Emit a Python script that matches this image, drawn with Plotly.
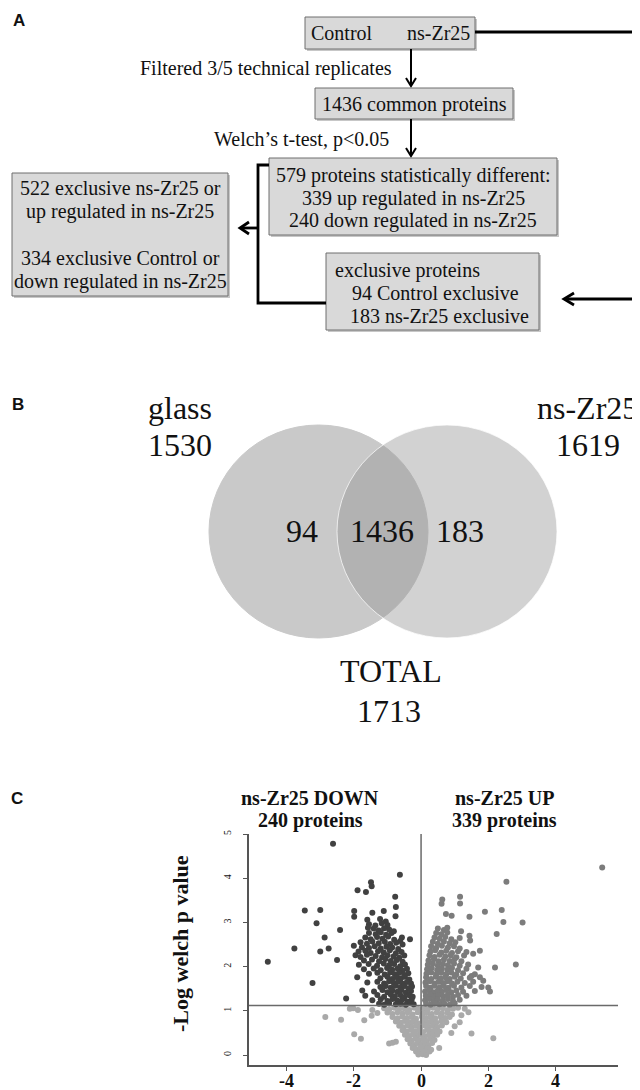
import plotly.graph_objects as go

W, H = 640, 1090

# ---- panel B: Venn counts
venn_labels = ["glass", "ns-Zr25"]
venn_totals = [1530, 1619]
venn_only_left = 94
venn_common = 1436
venn_only_right = 183
venn_total = 1713

# ---- panel C: volcano plot (log2 fold change, -log welch p)
down_count = 240
up_count = 339

down_pts = [
    (-2.62, 4.78), (-0.63, 4.08), (-1.49, 3.91), (-1.47, 3.82), (-1.89, 3.73), (-1.64, 3.69), (-0.77, 3.58),
    (-0.75, 3.35), (-3.46, 3.27), (-3.00, 3.28), (-1.99, 3.26), (-1.45, 3.22), (-1.11, 3.26), (-0.76, 3.14),
    (-1.99, 3.13), (-3.11, 2.98), (-2.41, 2.83), (-2.87, 2.66), (-2.75, 2.41), (-3.77, 2.41), (-3.00, 2.34),
    (-2.50, 2.15), (-4.56, 2.11), (-3.23, 1.63), (-2.23, 1.28), (-0.33, 2.62), (-0.57, 2.66),
    (-1.60, 3.06), (-1.22, 3.08), (-1.05, 3.02),
    (-1.55, 2.96), (-1.36, 2.93), (-1.17, 2.98), (-1.00, 2.94), (-1.58, 2.88),
    (-1.41, 2.86), (-1.26, 2.82), (-1.10, 2.87), (-0.95, 2.84), (-0.81, 2.80),
    (-1.55, 2.76), (-1.35, 2.73), (-1.20, 2.78), (-1.04, 2.72), (-0.88, 2.76),
    (-1.66, 2.66), (-1.50, 2.62), (-1.31, 2.67), (-1.15, 2.63), (-0.98, 2.68), (-0.80, 2.61), (-0.62, 2.58),
    (-1.80, 2.55), (-1.61, 2.52), (-1.45, 2.57), (-1.26, 2.53), (-1.08, 2.56), (-0.92, 2.51), (-0.74, 2.54),
    (-0.55, 2.50),
    (-2.00, 2.47), (-1.76, 2.44), (-1.55, 2.42), (-1.38, 2.46), (-1.20, 2.41), (-1.03, 2.45), (-0.86, 2.43),
    (-0.68, 2.40),
    (-1.86, 2.34), (-1.66, 2.36), (-1.50, 2.31), (-1.28, 2.35), (-1.11, 2.32), (-0.93, 2.37), (-0.75, 2.30),
    (-0.58, 2.33),
    (-1.95, 2.26), (-1.80, 2.22), (-1.61, 2.27), (-1.35, 2.24), (-1.16, 2.21), (-1.00, 2.26), (-0.82, 2.23),
    (-0.65, 2.20), (-0.50, 2.25),
    (-1.70, 2.14), (-1.46, 2.16), (-1.25, 2.12), (-1.06, 2.17), (-0.90, 2.13), (-0.72, 2.15), (-0.55, 2.11),
    (-1.85, 2.04), (-1.56, 2.06), (-1.31, 2.02), (-1.11, 2.07), (-0.95, 2.03), (-0.80, 2.06), (-0.62, 2.01),
    (-0.48, 2.05),
    (-1.70, 1.94), (-1.41, 1.96), (-1.20, 1.92), (-1.01, 1.97), (-0.86, 1.93), (-0.70, 1.96), (-0.55, 1.91),
    (-0.42, 1.95),
    (-1.55, 1.84), (-1.30, 1.86), (-1.08, 1.82), (-0.92, 1.87), (-0.78, 1.83), (-0.65, 1.86), (-0.50, 1.81),
    (-0.38, 1.85),
    (-1.90, 1.76), (-1.21, 1.74), (-1.00, 1.77), (-0.86, 1.72), (-0.72, 1.76), (-0.60, 1.73), (-0.48, 1.77),
    (-0.35, 1.71),
    (-1.60, 1.64), (-1.30, 1.66), (-1.10, 1.62), (-0.95, 1.67), (-0.81, 1.63), (-0.68, 1.66), (-0.55, 1.61),
    (-0.42, 1.65), (-0.30, 1.62),
    (-1.21, 1.54), (-1.05, 1.56), (-0.90, 1.52), (-0.76, 1.57), (-0.62, 1.53), (-0.50, 1.56), (-0.38, 1.51),
    (-0.27, 1.55),
    (-1.75, 1.46), (-1.40, 1.44), (-1.15, 1.47), (-1.00, 1.42), (-0.85, 1.46), (-0.70, 1.43), (-0.58, 1.47),
    (-0.45, 1.41), (-0.30, 1.45),
    (-1.66, 1.34), (-1.30, 1.36), (-1.10, 1.32), (-0.90, 1.37), (-0.78, 1.33), (-0.62, 1.36), (-0.50, 1.31),
    (-0.35, 1.35), (-0.25, 1.32),
    (-1.45, 1.24), (-1.20, 1.26), (-1.00, 1.22), (-0.85, 1.27), (-0.70, 1.23), (-0.55, 1.26), (-0.40, 1.21),
    (-0.28, 1.25),
    (-1.25, 1.16), (-1.10, 1.14), (-0.95, 1.17), (-0.75, 1.15), (-0.60, 1.16), (-0.45, 1.14), (-0.32, 1.17),
    (-0.22, 1.15),
]

up_pts = [
    (5.39, 4.24), (2.54, 3.92), (1.16, 3.58), (1.16, 3.43), (0.63, 3.52), (0.61, 3.42), (0.74, 3.19),
    (0.91, 3.15), (1.44, 3.13), (1.90, 3.24), (2.40, 3.28), (2.45, 3.01), (3.02, 3.00), (2.25, 2.74),
    (2.82, 2.05), (2.20, 1.98), (1.75, 2.36), (2.05, 1.44), (2.00, 1.53), (1.44, 2.70), (1.19, 2.80),
    (1.46, 2.59), (1.55, 2.29), (1.70, 1.98), (1.85, 1.68), (1.50, 1.79),
    (0.50, 2.86), (0.68, 2.83), (0.78, 2.88),
    (0.45, 2.76), (0.60, 2.73), (0.78, 2.77),
    (0.40, 2.66), (0.55, 2.63), (0.72, 2.67), (0.90, 2.62), (1.15, 2.65),
    (0.35, 2.56), (0.50, 2.52), (0.68, 2.57), (0.85, 2.53), (1.02, 2.55),
    (0.30, 2.46), (0.45, 2.42), (0.62, 2.47), (0.80, 2.43), (0.98, 2.46), (1.15, 2.41),
    (0.28, 2.34), (0.42, 2.37), (0.60, 2.32), (0.75, 2.36), (0.92, 2.31), (1.10, 2.35), (1.35, 2.33),
    (0.25, 2.26), (0.40, 2.22), (0.55, 2.27), (0.72, 2.23), (0.88, 2.26), (1.05, 2.21), (1.28, 2.25),
    (0.22, 2.14), (0.38, 2.17), (0.52, 2.12), (0.68, 2.16), (0.85, 2.13), (1.00, 2.17), (1.20, 2.12),
    (0.20, 2.04), (0.35, 2.07), (0.50, 2.02), (0.65, 2.06), (0.80, 2.03), (0.98, 2.07), (1.15, 2.02),
    (1.40, 2.05),
    (0.18, 1.94), (0.32, 1.97), (0.48, 1.92), (0.62, 1.96), (0.78, 1.93), (0.92, 1.97), (1.10, 1.92),
    (1.35, 1.95),
    (0.16, 1.84), (0.30, 1.87), (0.45, 1.82), (0.60, 1.86), (0.75, 1.83), (0.90, 1.87), (1.05, 1.82),
    (1.25, 1.85), (1.60, 1.83),
    (0.15, 1.76), (0.30, 1.72), (0.44, 1.77), (0.58, 1.73), (0.72, 1.76), (0.85, 1.72), (1.00, 1.77),
    (1.18, 1.73), (1.45, 1.75), (1.75, 1.76),
    (0.13, 1.64), (0.26, 1.67), (0.40, 1.62), (0.52, 1.66), (0.65, 1.63), (0.78, 1.67), (0.92, 1.62),
    (1.08, 1.66), (1.30, 1.63), (1.55, 1.66),
    (0.15, 1.56), (0.28, 1.52), (0.40, 1.57), (0.55, 1.53), (0.68, 1.56), (0.82, 1.52), (0.98, 1.57),
    (1.20, 1.53), (1.45, 1.56), (1.80, 1.54),
    (0.12, 1.44), (0.25, 1.47), (0.38, 1.42), (0.50, 1.46), (0.62, 1.43), (0.75, 1.47), (0.90, 1.42),
    (1.05, 1.46), (1.25, 1.43), (1.60, 1.45),
    (0.14, 1.34), (0.27, 1.37), (0.40, 1.32), (0.52, 1.36), (0.66, 1.33), (0.80, 1.37), (0.95, 1.32),
    (1.10, 1.36), (1.35, 1.34),
    (0.12, 1.24), (0.25, 1.27), (0.38, 1.22), (0.50, 1.26), (0.65, 1.23), (0.80, 1.27), (0.95, 1.22),
    (1.15, 1.25),
    (0.15, 1.16), (0.28, 1.14), (0.42, 1.17), (0.55, 1.15), (0.70, 1.16), (0.85, 1.14), (1.00, 1.17),
]

ns_pts = [
    (-2.85, 0.86), (-2.38, 0.80), (-1.99, 0.47), (-1.79, 0.37), (-2.12, 1.05), (-2.02, 1.06), (-1.88, 1.02),
    (-1.69, 0.79), (-1.47, 0.89), (-1.45, 1.02), (-1.30, 0.95), (-0.95, 0.26), (-0.75, 0.30), (-0.85, 0.28),
    (1.41, 0.97), (1.15, 0.74), (1.50, 0.49), (2.15, 0.38), (0.54, 0.16), (1.20, 0.90), (1.30, 1.05),
    (0.90, 0.50), (1.00, 0.65),
    (-1.10, 1.06), (-0.95, 1.03), (-0.80, 1.07), (-0.65, 1.04), (-0.50, 1.06), (-0.35, 1.02), (-0.20, 1.07),
    (-0.08, 1.04), (0.08, 1.06), (0.20, 1.03), (0.35, 1.07), (0.50, 1.04), (0.65, 1.06), (0.80, 1.02),
    (0.95, 1.05), (1.10, 1.07),
    (-1.00, 0.96), (-0.85, 0.93), (-0.70, 0.97), (-0.55, 0.94), (-0.40, 0.96), (-0.25, 0.92), (-0.10, 0.97),
    (0.05, 0.94), (0.18, 0.96), (0.32, 0.93), (0.47, 0.97), (0.62, 0.94), (0.78, 0.96), (0.92, 0.92),
    (-0.85, 0.86), (-0.70, 0.83), (-0.56, 0.87), (-0.42, 0.84), (-0.28, 0.86), (-0.15, 0.82), (0.02, 0.87),
    (0.15, 0.84), (0.28, 0.86), (0.42, 0.83), (0.58, 0.87), (0.72, 0.84), (0.85, 0.86),
    (-0.75, 0.76), (-0.60, 0.73), (-0.48, 0.77), (-0.35, 0.74), (-0.22, 0.76), (-0.10, 0.72), (0.05, 0.77),
    (0.18, 0.74), (0.30, 0.76), (0.45, 0.73), (0.60, 0.77), (0.75, 0.74),
    (-0.65, 0.66), (-0.52, 0.63), (-0.40, 0.67), (-0.28, 0.64), (-0.15, 0.66), (-0.03, 0.62), (0.10, 0.67),
    (0.22, 0.64), (0.35, 0.66), (0.48, 0.63), (0.62, 0.67),
    (-0.55, 0.56), (-0.42, 0.53), (-0.30, 0.57), (-0.18, 0.54), (-0.06, 0.56), (0.06, 0.52), (0.18, 0.57),
    (0.30, 0.54), (0.42, 0.56), (0.55, 0.53),
    (-0.48, 0.46), (-0.35, 0.43), (-0.24, 0.47), (-0.12, 0.44), (0.00, 0.46), (0.12, 0.42), (0.24, 0.47),
    (0.36, 0.44), (0.48, 0.46),
    (-0.40, 0.36), (-0.28, 0.33), (-0.17, 0.37), (-0.06, 0.34), (0.06, 0.36), (0.17, 0.32), (0.28, 0.37),
    (0.40, 0.34),
    (-0.32, 0.26), (-0.20, 0.23), (-0.10, 0.27), (0.02, 0.24), (0.12, 0.26), (0.22, 0.22), (0.33, 0.27),
    (-0.25, 0.16), (-0.13, 0.13), (-0.02, 0.17), (0.10, 0.14), (0.20, 0.16), (0.30, 0.12),
    (-0.15, 0.08), (-0.05, 0.05), (0.05, 0.09), (0.15, 0.06), (0.25, 0.08),
    (-0.08, 0.01), (0.05, 0.02), (0.15, 0.00),
]

x_tickvals = [-4, -2, 0, 2, 4]
x_ticktext = ["-4", "-2", "0", "2", "4"]
y_tickvals = [0, 1, 2, 3, 4, 5]
p_threshold = 1.12

SERIF = "Liberation Serif"
SANS = "Liberation Sans"
INK = "#111111"


def px(x):
    return x / W


def py(y):
    return 1 - y / H


def P(x, y):
    return f"{px(x):.5f},{py(y):.5f}"


fig = go.Figure()
shapes = []
notes = []


def txt(x, y, s, size=20, family=SERIF, anchor="center", angle=0):
    notes.append(dict(x=px(x), y=py(y), xref="paper", yref="paper", text=s, showarrow=False,
                      xanchor=anchor, yanchor="middle", textangle=angle,
                      font=dict(family=family, size=size, color=INK)))


def box(x0, y0, x1, y1):
    # soft drop shadow then the grey box
    shapes.append(dict(type="rect", xref="paper", yref="paper", x0=px(x0 + 2), x1=px(x1 + 2),
                       y0=py(y1 + 2), y1=py(y0 + 2), fillcolor="rgba(0,0,0,0.22)", line_width=0))
    shapes.append(dict(type="rect", xref="paper", yref="paper", x0=px(x0), x1=px(x1),
                       y0=py(y1), y1=py(y0), fillcolor="#d9d9d9", line=dict(color="#6e6e6e", width=1)))


def polyline(pts, width=2.4):
    path = "M" + " L".join(P(x, y) for x, y in pts)
    shapes.append(dict(type="path", xref="paper", yref="paper", path=path,
                       line=dict(color="#000000", width=width)))


# ---------------- panel A: flow chart
txt(11, 13, "<b>A</b>", size=17, family=SANS)

box(297, 9, 467, 41)
txt(334, 25, "Control")
txt(430, 25, "ns-Zr25")

polyline([(403, 41), (403, 78)], 2)
polyline([(398, 70), (403, 78), (408, 70)], 2)
txt(258, 61, "Filtered 3/5 technical replicates")

box(307, 80, 505, 111)
txt(406, 96, "1436 common proteins")

polyline([(403, 111), (403, 148)], 2)
polyline([(398, 140), (403, 148), (408, 140)], 2)
txt(293, 131, "Welch’s t-test, p&lt;0.05")

box(261, 150, 549, 227)
txt(405, 167, "579 proteins statistically different:")
txt(405, 190, "339 up regulated in ns-Zr25")
txt(405, 213, "240 down regulated in ns-Zr25")

box(4, 165, 220, 288)
txt(112, 180, "522 exclusive ns-Zr25 or")
txt(112, 203, "up regulated in ns-Zr25")
txt(112, 250, "334 exclusive Control or")
txt(112, 273, "down regulated in ns-Zr25")

box(318, 245, 531, 322)
txt(325, 262, "exclusive proteins", anchor="left")
txt(342, 285, "94 Control exclusive", anchor="left")
txt(340, 308, "183 ns-Zr25 exclusive", anchor="left")

# bracket joining the two result boxes, pointing to the summary box
polyline([(261, 157), (250, 157), (250, 295), (318, 295)], 2.8)
polyline([(250, 220), (233, 220)], 2.8)
polyline([(241, 214), (232, 220), (241, 226)], 2.8)

# connector from the start box to the exclusive box
polyline([(467, 24), (635, 24), (635, 291), (557, 291)], 2.8)
polyline([(566, 285), (556, 291), (566, 297)], 2.8)

# ---------------- panel B: Venn diagram
txt(10, 396, "<b>B</b>", size=17, family=SANS)
shapes.append(dict(type="circle", xref="paper", yref="paper", x0=px(201), x1=px(420),
                   y0=py(630), y1=py(417), fillcolor="#c9c9c9", line=dict(color="#c9c9c9", width=1)))
shapes.append(dict(type="circle", xref="paper", yref="paper", x0=px(329), x1=px(549),
                   y0=py(630), y1=py(417), fillcolor="rgba(147,147,147,0.42)",
                   line=dict(color="rgba(255,255,255,0.7)", width=1)))

txt(172, 400, venn_labels[0], size=32)
txt(172, 437, str(venn_totals[0]), size=32)
txt(579, 400, venn_labels[1], size=32)
txt(580, 437, str(venn_totals[1]), size=32)
txt(294, 523, str(venn_only_left), size=32)
txt(374, 523, str(venn_common), size=32)
txt(452, 523, str(venn_only_right), size=32)
txt(383, 663, "TOTAL", size=32)
txt(381, 703, str(venn_total), size=32)

# ---------------- panel C: volcano plot
txt(9, 790, "<b>C</b>", size=17, family=SANS)
txt(302, 790, "<b>ns-Zr25 DOWN</b>")
txt(302, 812, f"<b>{down_count} proteins</b>")
txt(496, 790, "<b>ns-Zr25 UP</b>")
txt(496, 812, f"<b>{up_count} proteins</b>")
txt(172, 936, "<b>-Log welch p value</b>", size=22, angle=-90)

# x tick labels placed on the data scale (plain hyphen minus, as in the original)
for v, t in zip(x_tickvals, x_ticktext):
    notes.append(dict(x=v, y=py(1073), xref="x", yref="paper", text=f"<b>{t}</b>", showarrow=False,
                      xanchor="center", yanchor="middle", borderpad=0,
                      font=dict(family=SERIF, size=18, color=INK)))

for pts, color in [(ns_pts, "#a9a9a9"), (up_pts, "#7c7c7c"), (down_pts, "#414141")]:
    fig.add_trace(go.Scatter(
        x=[p[0] for p in pts], y=[p[1] for p in pts], mode="markers",
        marker=dict(size=6, color=color, line_width=0), hoverinfo="skip", showlegend=False,
    ))

shapes.append(dict(type="line", xref="x", yref="y", x0=-5.12, x1=5.86, y0=p_threshold, y1=p_threshold,
                   line=dict(color="#6a6a6a", width=1.5)))
shapes.append(dict(type="line", xref="x", yref="y", x0=0, x1=0, y0=0.45, y1=5,
                   line=dict(color="#6a6a6a", width=1.5)))

fig.update_layout(
    template="none",
    width=W, height=H,
    margin=dict(l=0, r=0, t=0, b=0),
    paper_bgcolor="white", plot_bgcolor="white",
    shapes=shapes, annotations=notes,
    xaxis=dict(domain=[px(241), px(610)], range=[-5.12, 5.86], showgrid=False, zeroline=False,
               showline=True, linecolor="#555555", linewidth=1.5, ticks="outside", ticklen=4,
               tickcolor="#555555", tickvals=x_tickvals, showticklabels=False, automargin=False),
    yaxis=dict(domain=[py(1057), py(826)], range=[-0.225, 5], showgrid=False, zeroline=False,
               showline=True, linecolor="#555555", linewidth=1.5, ticks="outside", ticklen=4,
               tickcolor="#555555", tickvals=y_tickvals, tickangle=-90, ticklabelstandoff=8,
               tickfont=dict(family=SERIF, size=10, color=INK), automargin=False),
)

fig.write_html("out.html")
